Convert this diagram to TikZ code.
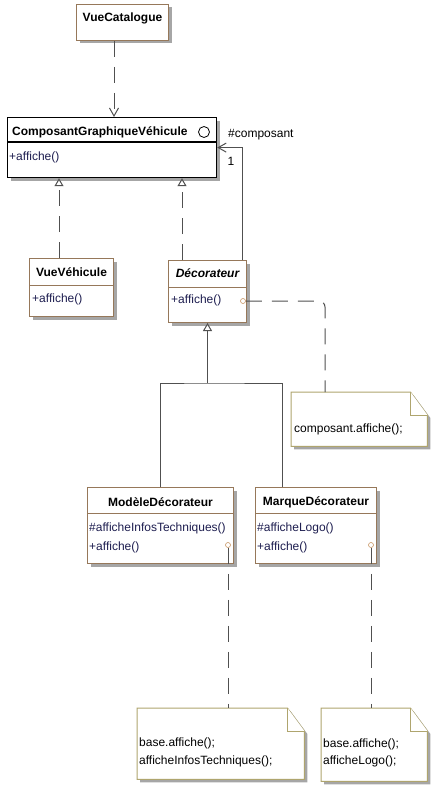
\documentclass[tikz,border=0pt]{standalone}
\usepackage{fontspec}
\setmainfont{Liberation Sans}
\usetikzlibrary{arrows.meta,shadows,calc}
\definecolor{boxbrown}{RGB}{150,120,90}
\definecolor{noteolive}{RGB}{175,165,110}
\definecolor{methodblue}{RGB}{30,30,80}
\definecolor{linegray}{RGB}{80,80,80}
\definecolor{portbrown}{RGB}{200,150,100}

\begin{document}
\begin{tikzpicture}[x=1pt, y=-1pt,
  every node/.style={inner sep=0pt, font=\fontsize{12}{14}\selectfont},
  boxshadow/.style={drop shadow={shadow xshift=3pt, shadow yshift=-3pt, fill=black!35, opacity=1}},
  classbox/.style={draw=boxbrown, line width=1pt, fill=white, boxshadow, anchor=north west},
  ifacebox/.style={draw=black, line width=1.2pt, fill=white, boxshadow, anchor=north west},
  notebase/.style={anchor=north west},
  notebox/.style={draw=noteolive, line width=1pt, fill=white},
  classname/.style={font=\fontsize{12}{14}\selectfont\bfseries},
  member/.style={anchor=west, text=methodblue},
  notetext/.style={anchor=west},
  port/.style={draw=portbrown, circle, minimum size=5pt, line width=0.6pt, fill=white},
  link/.style={draw=linegray, line width=1pt},
  dashlink/.style={link, dash pattern=on 16pt off 10pt},
  depend/.style={dashlink, -{Straight Barb[length=8pt, width=9pt]}},
  realize/.style={dashlink, -{Triangle[length=8pt, width=9pt, fill=white]}},
  inherit/.style={link, -{Triangle[length=8pt, width=9pt, fill=white]}},
  assoc/.style={link, -{Straight Barb[length=8pt, width=9pt]}},
  notelink/.style={dashlink, rounded corners=6pt}
]
\useasboundingbox (0,0) rectangle (442,794);

% classes
\node[classbox, minimum width=92pt, minimum height=36pt] (catalogue) at (76,4) {};
\node[classname] (catalogue-name) at ($(catalogue.north)+(0,14)$) {VueCatalogue};

\node[ifacebox, minimum width=209pt, minimum height=60pt] (cgv) at (7,117) {};
\draw[line width=1.2pt] ($(cgv.north west)+(0,25)$) -- ($(cgv.north east)+(0,25)$);
\node[classname, anchor=west] (cgv-name) at (12,132) {ComposantGraphiqueVéhicule};
\node[draw, circle, minimum size=11pt, line width=0.8pt] (iface) at (204,132) {};
\node[member] (cgv-m1) at (9,157) {+affiche()};

\node[classbox, minimum width=84pt, minimum height=58pt] (vv) at (29,258) {};
\draw[boxbrown, line width=1pt] ($(vv.north west)+(0,27)$) -- ($(vv.north east)+(0,27)$);
\node[classname] (vv-name) at ($(vv.north)+(0,14)$) {VueVéhicule};
\node[member] (vv-m1) at (32,299) {+affiche()};

\node[classbox, minimum width=78pt, minimum height=62pt] (deco) at (168,260) {};
\draw[boxbrown, line width=1pt] ($(deco.north west)+(0,27)$) -- ($(deco.north east)+(0,27)$);
\node[classname, font=\fontsize{12}{14}\selectfont\bfseries\itshape] (deco-name) at ($(deco.north)+(0,13)$) {Décorateur};
\node[member] (deco-m1) at (171,300) {+affiche()};
\node[port] (p0) at (243,301) {};

\node[classbox, minimum width=146pt, minimum height=76pt] (mod) at (87,487) {};
\draw[boxbrown, line width=1pt] ($(mod.north west)+(0,26)$) -- ($(mod.north east)+(0,26)$);
\node[classname] (mod-name) at ($(mod.north)+(0,15)$) {ModèleDécorateur};
\node[member] (mod-m1) at (89,528) {\#afficheInfosTechniques()};
\node[member] (mod-m2) at (89,547) {+affiche()};
\node[port] (p1) at (228,545) {};

\node[classbox, minimum width=121pt, minimum height=76pt] (marque) at (255,487) {};
\draw[boxbrown, line width=1pt] ($(marque.north west)+(0,26)$) -- ($(marque.north east)+(0,26)$);
\node[classname] (marque-name) at ($(marque.north)+(0,15)$) {MarqueDécorateur};
\node[member] (marque-m1) at (257,528) {\#afficheLogo()};
\node[member] (marque-m2) at (257,547) {+affiche()};
\node[port] (p2) at (371,545) {};

% notes
\node[notebase, minimum width=136pt, minimum height=54pt] (n0) at (291,392) {};
\node[notebase, minimum width=167pt, minimum height=71pt] (n1) at (137,708) {};
\node[notebase, minimum width=106pt, minimum height=73pt] (n2) at (321,708) {};
\foreach \n in {n0,n1,n2}{
  \fill[black!35] ($(\n.north west)+(3,3)$) -- ($(\n.north east)+(-14,3)$) -- ($(\n.north east)+(3,26)$)
    -- ($(\n.south east)+(3,3)$) -- ($(\n.south west)+(3,3)$) -- cycle;
  \draw[notebox] (\n.north west) -- ($(\n.north east)+(-17,0)$) -- ($(\n.north east)+(0,23)$)
    -- (\n.south east) -- (\n.south west) -- cycle;
  \draw[notebox] ($(\n.north east)+(-17,0)$) |- ($(\n.north east)+(0,23)$);
}
\node[notetext] (n0-t1) at (294,429) {composant.affiche();};
\node[notetext] (n1-t1) at (139,743) {base.affiche();};
\node[notetext] (n1-t2) at (139,761) {afficheInfosTechniques();};
\node[notetext] (n2-t1) at (323,744) {base.affiche();};
\node[notetext] (n2-t2) at (323,761) {afficheLogo();};

% connectors
\coordinate (cat-out) at ($(catalogue.south west)+(38,0)$);
\draw[depend] (cat-out) -- (cat-out |- cgv.north);

\coordinate (vv-top) at ($(vv.north west)+(30,0)$);
\draw[realize] (vv-top) -- (vv-top |- cgv.south);
\coordinate (deco-top) at ($(deco.north west)+(14,0)$);
\draw[realize] (deco-top) -- (deco-top |- cgv.south);

\coordinate (deco-ref) at ($(deco.north east)+(-5,0)$);
\draw[assoc] (deco-ref) |- (cgv.east);
\node[anchor=west] (role) at (228,135) {\#composant};
\node (mult) at (231,161) {1};

\coordinate (fork) at ($(deco.south)+(0,60)$);
\coordinate (marque-top) at ($(marque.north west)+(27,0)$);
\draw[link] (mod.north) |- (fork) -| (marque-top);
\draw[inherit] (fork) -- (deco.south);

\coordinate (n0-top) at ($(n0.north west)+(34,0)$);
\draw[notelink] (p0.east) -| (n0-top);
\draw[notelink] (p1.south) -- (p1 |- n1.north);
\draw[notelink] (p2.south) -- (p2 |- n2.north);
\end{tikzpicture}
\end{document}
